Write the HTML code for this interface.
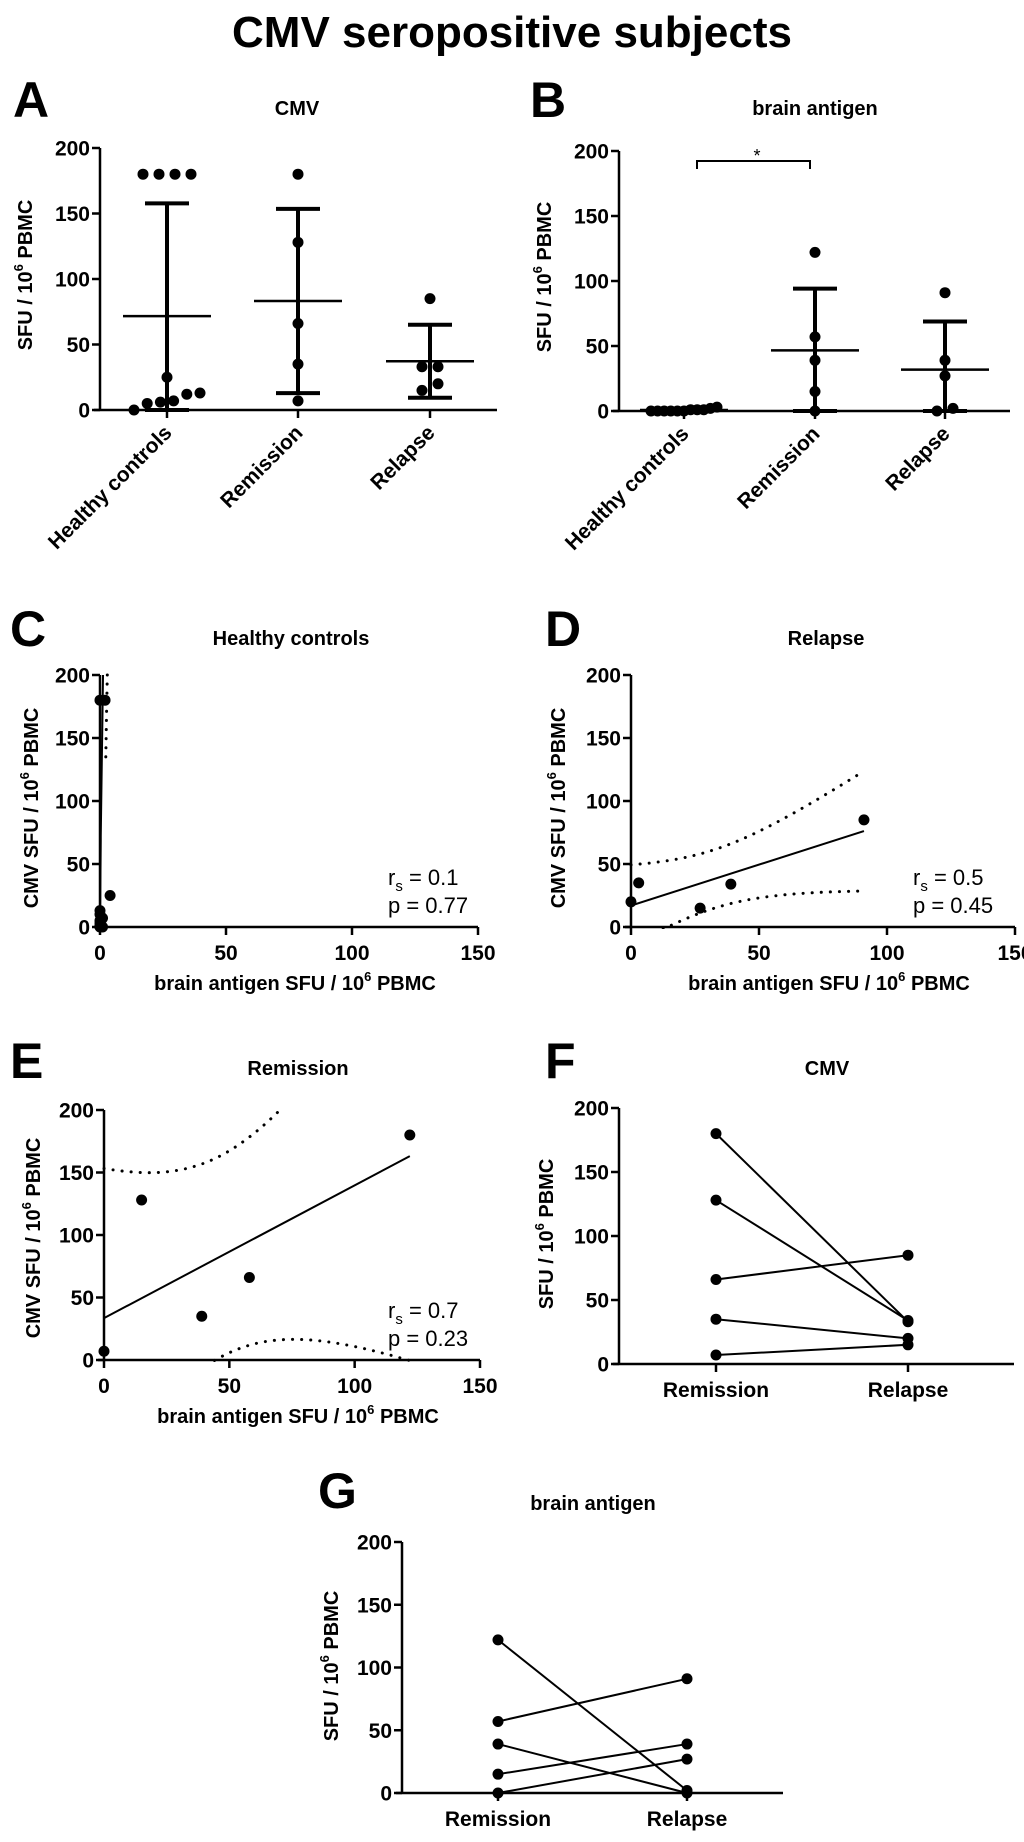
<!DOCTYPE html>
<html><head><meta charset="utf-8"><title>CMV seropositive subjects</title>
<style>
html,body{margin:0;padding:0;background:#fff;}
svg{display:block;font-family:"Liberation Sans",Arial,sans-serif;}
</style></head>
<body>
<svg id="fig" width="1024" height="1842" viewBox="0 0 1024 1842" xmlns="http://www.w3.org/2000/svg">
<text x="512" y="47" text-anchor="middle" font-size="44" font-weight="bold">CMV seropositive subjects</text>
</svg>
<script>
// ---------- data ----------
const yTicks = [0, 50, 100, 150, 200];
const xTicks = [0, 50, 100, 150];
const dotCategories = ['Healthy controls', 'Remission', 'Relapse'];
const cmvHealthy = [180, 180, 180, 180, 0, 5, 6, 7, 12, 13, 25];
const cmvRemission = [180, 128, 66, 35, 7];
const cmvRelapse = [85, 33, 33, 20, 15];
const brainHealthy = [3, 1, 1, 0, 0, 0, 0, 0, 0, 1, 2];
const brainRemission = [122, 57, 39, 15, 0];
const brainRelapse = [91, 39, 27, 0, 2];
const healthyBrainX = [0, 2, 4, 0, 0, 1, 0, 0, 0, 1, 0];
const healthyCmvY = [180, 180, 25, 13, 10, 7, 5, 3, 1, 0, 0];
const healthyFitX = [0, 0.3, 0.3, 1.2];
const healthyFitY = [0, 68, 72, 200];
const healthyCiX = [2.3, 2.6, 2.9];
const healthyCiY = [135, 170, 200];
const relapseBrainX = [0, 3, 27, 39, 91];
const relapseCmvY = [20, 35, 15, 34, 85];
const remissionBrainX = [0, 15, 39, 58, 122];
const remissionCmvY = [7, 128, 35, 66, 180];
const statsHealthy = ['0.1', '0.77'];
const statsRelapse = ['0.5', '0.45'];
const statsRemission = ['0.7', '0.23'];
const pairCategories = ['Remission', 'Relapse'];
const cmvPairRemission = [180, 128, 66, 35, 7];
const cmvPairRelapse = [33, 34, 85, 20, 15];
const brainPairRemission = [122, 57, 39, 15, 0];
const brainPairRelapse = [2, 91, 0, 39, 27];

// ---------- helpers ----------
const NS = 'http://www.w3.org/2000/svg';
const svg = document.getElementById('fig');
function mk(tag, attrs, parent) {
  const e = document.createElementNS(NS, tag);
  for (const k in attrs) e.setAttribute(k, attrs[k]);
  (parent || svg).appendChild(e);
  return e;
}
function yScale(p) { return v => p.y0 - v * (p.y0 - p.y200) / 200; }
function xScale(p) { return v => p.x0 + v * (p.x150 - p.x0) / 150; }

function panelHeader(p, letter, title, name) {
  const g = mk('g', {});
  
  
  const L = mk('text', {x: p.lx, y: p.ly, 'font-size': 50, 'font-weight': 'bold'}, g);
  
  
  L.textContent = letter;
  const T = mk('text', {x: p.tx, y: p.ty, 'font-size': 20, 'font-weight': 'bold', 'text-anchor': 'middle'}, g);
  
  
  T.textContent = title;
  return g;
}

function yAxis(g, p, prefix) {
  const y = yScale(p);
  const ax = mk('line', {x1: p.x0, y1: p.y0 + 1, x2: p.x0, y2: p.y200, stroke: '#000', 'stroke-width': 2.5}, g);
  
  
  yTicks.forEach(t => {
    const tk = mk('line', {x1: p.x0 - 8, y1: y(t), x2: p.x0, y2: y(t), stroke: '#000', 'stroke-width': 2.5}, g);
    
    
    const tl = mk('text', {x: p.x0 - 10, y: y(t) + 7.5, 'text-anchor': 'end', 'font-size': 21, 'font-weight': 'bold'}, g);
    
    
    tl.textContent = t;
  });
  const tt = mk('text', {transform: `translate(${p.ytx},${p.yty}) rotate(-90)`, 'text-anchor': 'middle', 'font-size': 20, 'font-weight': 'bold'}, g);
  
  
  tt.innerHTML = prefix + 'SFU / 10<tspan dy="-9" font-size="13">6</tspan><tspan dy="9"> PBMC</tspan>';
}

function mean(a) { return a.reduce((s, v) => s + v, 0) / a.length; }
function sd(a) { const m = mean(a); return Math.sqrt(a.reduce((s, v) => s + (v - m) * (v - m), 0) / (a.length - 1)); }

function dotPanel(p, groups, name) {
  const g = panelHeader(p, p.letter, p.title, name);
  yAxis(g, p, '');
  const y = yScale(p);
  const xa = mk('line', {x1: p.x0 - 6, y1: p.y0, x2: p.xEnd, y2: p.y0, stroke: '#000', 'stroke-width': 2.5}, g);
  
  
  groups.forEach((vals, i) => {
    const cx = p.cats[i];
    const tk = mk('line', {x1: cx, y1: p.y0, x2: cx, y2: p.y0 + 8, stroke: '#000', 'stroke-width': 2.5}, g);
    
    
    const lab = mk('text', {transform: `translate(${cx + 6},${p.y0 + 24}) rotate(-45)`, 'text-anchor': 'end', 'font-size': 21, 'font-weight': 'bold'}, g);
    
    
    lab.textContent = dotCategories[i];
    const sorted = vals.map(v => v).sort((a, b) => a - b);
    const clusters = [];
    sorted.forEach(v => {
      const c = clusters[clusters.length - 1];
      if (c && Math.abs(y(v) - y(c[c.length - 1])) < 10) c.push(v); else clusters.push([v]);
    });
    clusters.forEach(c => {
      const sp = c.length > 1 ? Math.min(16, 66 / (c.length - 1)) : 0;
      c.forEach((v, k) => {
        const dot = mk('circle', {cx: cx + (k - (c.length - 1) / 2) * sp, cy: y(v), r: 5.5, fill: '#000'}, g);
        
        
      });
    });
    const m = mean(vals), s = sd(vals);
    const ml = mk('line', {x1: cx - 44, y1: y(m), x2: cx + 44, y2: y(m), stroke: '#000', 'stroke-width': 2.5}, g);
    
    
    const lo = Math.max(0, m - s), hi = m + s;
    const eb = mk('line', {x1: cx, y1: y(lo), x2: cx, y2: y(hi), stroke: '#000', 'stroke-width': 4}, g);
    
    
    [lo, hi].forEach(v => {
      const cap = mk('line', {x1: cx - 22, y1: y(v), x2: cx + 22, y2: y(v), stroke: '#000', 'stroke-width': 4}, g);
      
      
    });
  });
  return g;
}

function fitStats(xs, ys) {
  const n = xs.length, mx = mean(xs), my = mean(ys);
  let sxy = 0, sxx = 0;
  xs.forEach((x, i) => { sxy += (x - mx) * (ys[i] - my); sxx += (x - mx) * (x - mx); });
  const b = sxy / sxx, a = my - b * mx;
  let ss = 0; xs.forEach((x, i) => { const r = ys[i] - (a + b * x); ss += r * r; });
  const s = Math.sqrt(ss / (n - 2));
  const tcrit = {3: 3.182, 9: 2.262}[n - 2] || 2.0;
  return {a, b, mx, sxx, s, n, tcrit, xmin: Math.min(...xs), xmax: Math.max(...xs)};
}

function scatterPanel(p, xs, ys, stats, name, fixedFit) {
  const g = panelHeader(p, p.letter, p.title, name);
  yAxis(g, p, 'CMV ');
  const y = yScale(p), x = xScale(p);
  const cid = 'clip-' + name;
  const cp = mk('clipPath', {id: cid}, g);
  mk('rect', {x: p.x0 - 2, y: p.y200 - 2, width: p.x150 - p.x0 + 4, height: p.y0 - p.y200 + 4}, cp);
  const plot = mk('g', {'clip-path': `url(#${cid})`}, g);
  
  
  if (fixedFit) {
    const fl = mk('polyline', {points: fixedFit.fx.map((v, i) => x(v) + ',' + y(fixedFit.fy[i])).join(' '), fill: 'none', stroke: '#000', 'stroke-width': 2}, plot);
    
    
    const ci = mk('polyline', {points: fixedFit.cx.map((v, i) => x(v) + ',' + y(fixedFit.cy[i])).join(' '), fill: 'none', stroke: '#000', 'stroke-width': 3, 'stroke-dasharray': '0.1 9', 'stroke-linecap': 'round'}, plot);
    
    
  } else {
    const f = fitStats(xs, ys);
    const fl = mk('line', {x1: x(f.xmin), y1: y(f.a + f.b * f.xmin), x2: x(f.xmax), y2: y(f.a + f.b * f.xmax), stroke: '#000', 'stroke-width': 2}, plot);
    
    
    [1, -1].forEach(sign => {
      const pts = [];
      for (let k = 0; k <= 40; k++) {
        const xv = f.xmin + (f.xmax - f.xmin) * k / 40;
        const se = f.s * Math.sqrt(1 / f.n + (xv - f.mx) * (xv - f.mx) / f.sxx);
        pts.push(x(xv) + ',' + y(f.a + f.b * xv + sign * f.tcrit * se));
      }
      const ci = mk('polyline', {points: pts.join(' '), fill: 'none', stroke: '#000', 'stroke-width': 3, 'stroke-dasharray': '0.1 9', 'stroke-linecap': 'round'}, plot);
      
      
    });
  }
  xs.forEach((xv, i) => {
    const d = mk('circle', {cx: x(xv), cy: y(ys[i]), r: 5.5, fill: '#000'}, g);
    
    
  });
  const xa = mk('line', {x1: p.x0 - 6, y1: p.y0, x2: p.x150, y2: p.y0, stroke: '#000', 'stroke-width': 2.5}, g);
  
  
  xTicks.forEach(t => {
    const tk = mk('line', {x1: x(t), y1: p.y0, x2: x(t), y2: p.y0 + 8, stroke: '#000', 'stroke-width': 2.5}, g);
    
    
    const tl = mk('text', {x: x(t), y: p.y0 + 33, 'text-anchor': 'middle', 'font-size': 21, 'font-weight': 'bold'}, g);
    
    
    tl.textContent = t;
  });
  const xt = mk('text', {x: (p.x0 + p.x150) / 2 + 6, y: p.y0 + 63, 'text-anchor': 'middle', 'font-size': 20, 'font-weight': 'bold'}, g);
  
  
  xt.innerHTML = 'brain antigen SFU / 10<tspan dy="-9" font-size="13">6</tspan><tspan dy="9"> PBMC</tspan>';
  const r = mk('text', {x: p.sx, y: p.y0 - 42, 'font-size': 22}, g);
  
  
  r.innerHTML = 'r<tspan dy="6" font-size="15">s</tspan><tspan dy="-6"> = ' + stats[0] + '</tspan>';
  const pv = mk('text', {x: p.sx, y: p.y0 - 14, 'font-size': 22}, g);
  
  
  pv.textContent = 'p = ' + stats[1];
}

function pairPanel(p, before, after, name) {
  const g = panelHeader(p, p.letter, p.title, name);
  yAxis(g, p, '');
  const y = yScale(p);
  const xa = mk('line', {x1: p.x0 - 6, y1: p.y0, x2: p.xEnd, y2: p.y0, stroke: '#000', 'stroke-width': 2.5}, g);
  
  
  p.cats.forEach((cx, i) => {
    const tk = mk('line', {x1: cx, y1: p.y0, x2: cx, y2: p.y0 + 8, stroke: '#000', 'stroke-width': 2.5}, g);
    
    
    const lab = mk('text', {x: cx, y: p.y0 + 33, 'text-anchor': 'middle', 'font-size': 21, 'font-weight': 'bold'}, g);
    
    
    lab.textContent = pairCategories[i];
  });
  before.forEach((v, i) => {
    const ln = mk('line', {x1: p.cats[0], y1: y(v), x2: p.cats[1], y2: y(after[i]), stroke: '#000', 'stroke-width': 2}, g);
    
    
    const d1 = mk('circle', {cx: p.cats[0], cy: y(v), r: 5.5, fill: '#000'}, g);
    
    
    const d2 = mk('circle', {cx: p.cats[1], cy: y(after[i]), r: 5.5, fill: '#000'}, g);
    
    
  });
}

// ---------- panels ----------
const pA = {letter: 'A', title: 'CMV', lx: 13, ly: 117, tx: 297, ty: 115, x0: 100, xEnd: 497, y0: 410, y200: 148, cats: [167, 298, 430], ytx: 32, yty: 275};
dotPanel(pA, [cmvHealthy, cmvRemission, cmvRelapse], 'panel-a-cmv');

const pB = {letter: 'B', title: 'brain antigen', lx: 530, ly: 117, tx: 815, ty: 115, x0: 619, xEnd: 1010, y0: 411, y200: 151, cats: [684, 815, 945], ytx: 551, yty: 277};
const gB = dotPanel(pB, [brainHealthy, brainRemission, brainRelapse], 'panel-b-brain-antigen');
const br = mk('path', {d: 'M697,169 V161 H810 V169', fill: 'none', stroke: '#000', 'stroke-width': 2}, gB);


const st = mk('text', {x: 757, y: 162, 'text-anchor': 'middle', 'font-size': 18}, gB);


st.textContent = '*';

const pC = {letter: 'C', title: 'Healthy controls', lx: 10, ly: 646, tx: 291, ty: 645, x0: 100, x150: 478, y0: 927, y200: 675, ytx: 38, yty: 808, sx: 388};
scatterPanel(pC, healthyBrainX, healthyCmvY, statsHealthy, 'panel-c-healthy', {fx: healthyFitX, fy: healthyFitY, cx: healthyCiX, cy: healthyCiY});

const pD = {letter: 'D', title: 'Relapse', lx: 545, ly: 646, tx: 826, ty: 645, x0: 631, x150: 1015, y0: 927, y200: 675, ytx: 565, yty: 808, sx: 913};
scatterPanel(pD, relapseBrainX, relapseCmvY, statsRelapse, 'panel-d-relapse');

const pE = {letter: 'E', title: 'Remission', lx: 10, ly: 1078, tx: 298, ty: 1075, x0: 104, x150: 480, y0: 1360, y200: 1110, ytx: 40, yty: 1238, sx: 388};
scatterPanel(pE, remissionBrainX, remissionCmvY, statsRemission, 'panel-e-remission');

const pF = {letter: 'F', title: 'CMV', lx: 545, ly: 1078, tx: 827, ty: 1075, x0: 619, xEnd: 1014, y0: 1364, y200: 1108, cats: [716, 908], ytx: 553, yty: 1234};
pairPanel(pF, cmvPairRemission, cmvPairRelapse, 'panel-f-cmv-paired');

const pG = {letter: 'G', title: 'brain antigen', lx: 318, ly: 1508, tx: 593, ty: 1510, x0: 402, xEnd: 783, y0: 1793, y200: 1542, cats: [498, 687], ytx: 338, yty: 1666};
pairPanel(pG, brainPairRemission, brainPairRelapse, 'panel-g-brain-paired');
</script>
</body></html>
